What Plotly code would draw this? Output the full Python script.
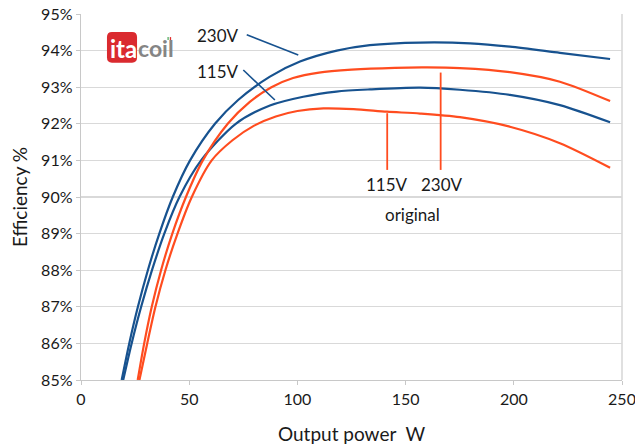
import plotly.graph_objects as go

# ---- data (Output power W, efficiency %) ----
blue230_x = [18.8, 22.3, 26.3, 30.9, 36.2, 42.4, 50.4, 61.9, 72.6, 87.3, 101.2, 118.2, 133.5, 156.7, 179.8, 198.2, 221.3, 244.5]
blue230_y = [85.0, 86.0, 87.0, 88.0, 89.0, 90.0, 91.0, 92.0, 92.65, 93.29, 93.70, 94.00, 94.15, 94.22, 94.20, 94.11, 93.94, 93.77]

blue115_x = [19.5, 23.4, 27.8, 32.8, 38.5, 45.5, 55.5, 71.5, 87.3, 102.7, 118.0, 133.5, 156.7, 175.1, 198.2, 221.3, 244.5]
blue115_y = [85.0, 86.0, 87.0, 88.0, 89.0, 90.0, 91.0, 92.0, 92.50, 92.74, 92.88, 92.94, 92.99, 92.93, 92.79, 92.51, 92.04]

orange230_x = [26.2, 29.2, 32.7, 37.0, 42.2, 48.5, 56.3, 67.8, 78.0, 88.0, 98.0, 110.0, 125.0, 145.0, 160.0, 175.1, 198.2, 221.3, 244.5]
orange230_y = [85.0, 86.0, 87.0, 88.0, 89.0, 90.0, 91.0, 92.0, 92.60, 93.00, 93.25, 93.40, 93.48, 93.53, 93.54, 93.52, 93.41, 93.15, 92.62]

orange115_x = [27.0, 30.6, 34.4, 39.0, 44.6, 51.2, 60.4, 70.0, 80.0, 90.0, 100.0, 112.0, 126.0, 141.4, 156.7, 175.1, 198.2, 221.3, 244.5]
orange115_y = [85.0, 86.0, 87.0, 88.0, 89.0, 90.0, 91.0, 91.55, 91.95, 92.20, 92.35, 92.42, 92.40, 92.33, 92.28, 92.18, 91.92, 91.47, 90.80]

x_ticks = [0, 50, 100, 150, 200, 250]
y_ticks = [85, 86, 87, 88, 89, 90, 91, 92, 93, 94, 95]

BLUE = "#17528f"
ORANGE = "#ff4c1f"
FONT = "Lato, 'Liberation Sans', sans-serif"
TXT = "#1a1a1a"

fig = go.Figure()
for xs, ys, col in [(blue230_x, blue230_y, BLUE), (blue115_x, blue115_y, BLUE),
                    (orange230_x, orange230_y, ORANGE), (orange115_x, orange115_y, ORANGE)]:
    fig.add_trace(go.Scatter(x=xs, y=ys, mode="lines",
                             line=dict(color=col, width=2.2, shape="spline", smoothing=0.8),
                             hoverinfo="skip", showlegend=False, cliponaxis=True))

shapes = []
# annotation pointer lines
shapes.append(dict(type="line", xref="x", yref="y", x0=76.6, y0=94.43, x1=100.4, y1=93.88,
                   line=dict(color=BLUE, width=1.6)))
shapes.append(dict(type="line", xref="x", yref="y", x0=75.0, y0=93.47, x1=89.6, y1=92.65,
                   line=dict(color=BLUE, width=1.6)))
shapes.append(dict(type="line", xref="x", yref="y", x0=141.5, y0=92.29, x1=141.5, y1=90.74,
                   line=dict(color=ORANGE, width=1.8)))
shapes.append(dict(type="line", xref="x", yref="y", x0=166.2, y0=93.40, x1=166.2, y1=90.74,
                   line=dict(color=ORANGE, width=1.8)))

# logo box (rounded rectangle)
x0, x1, y0, y1 = 12.0, 25.9, 93.67, 94.51
rx, ry = 2.3, 0.14
path = (f"M {x0+rx},{y1} L {x1-rx},{y1} Q {x1},{y1} {x1},{y1-ry} L {x1},{y0+ry} "
        f"Q {x1},{y0} {x1-rx},{y0} L {x0+rx},{y0} Q {x0},{y0} {x0},{y0+ry} "
        f"L {x0},{y1-ry} Q {x0},{y1} {x0+rx},{y1} Z")
shapes.append(dict(type="path", xref="x", yref="y", path=path, fillcolor="#da2a2f",
                   line=dict(width=0), layer="above"))
# tiny flag
for i, c in enumerate(["#2e9e3e", "#e8e8e8", "#e03030"]):
    shapes.append(dict(type="rect", xref="x", yref="y", x0=40.0 + i * 0.55, x1=40.55 + i * 0.55,
                       y0=94.29, y1=94.37, fillcolor=c, line=dict(width=0), layer="above"))

fig.update_layout(shapes=shapes)

ann = []
def label(x, y, text, size=17, color=TXT, bold=False, family=FONT):
    ann.append(dict(x=x, y=y, xref="x", yref="y", text=(f"<b>{text}</b>" if bold else text),
                    showarrow=False, font=dict(family=family, size=size, color=color),
                    xanchor="center", yanchor="middle"))

label(63.3, 94.40, "230V")
label(63.1, 93.44, "115V")
label(141.2, 90.33, "115V")
label(166.8, 90.33, "230V")
label(153.2, 89.53, "original")
label(19.6, 94.07, "ita", size=24, color="white", bold=True)
label(34.8, 94.07, "coil", size=23, color="#858585", bold=True)
fig.update_layout(annotations=ann)

fig.update_layout(
    width=635, height=448,
    margin=dict(l=81, r=13, t=14, b=68, autoexpand=False),
    paper_bgcolor="white", plot_bgcolor="white",
    font=dict(family=FONT, color=TXT),
    xaxis=dict(range=[0, 250], tickvals=x_ticks, ticktext=[str(v) for v in x_ticks],
               showgrid=False, zeroline=False, showline=True, linecolor="#c8c8c8", linewidth=1.3,
               ticks="outside", ticklen=4, tickcolor="#c8c8c8", ticklabeloverflow="allow",
               tickfont=dict(family=FONT, size=16, color=TXT),
               title=dict(text="Output power  W", font=dict(family=FONT, size=19, color=TXT), standoff=21),
               automargin=False, fixedrange=True),
    yaxis=dict(range=[85, 95], tickvals=y_ticks, ticktext=[f"{v}%" for v in y_ticks],
               showgrid=True, gridcolor="#d9d9d9", gridwidth=1.3, zeroline=False,
               showline=True, linecolor="#c8c8c8", linewidth=1.3,
               ticks="outside", ticklen=4, tickcolor="#c8c8c8", ticklabeloverflow="allow",
               tickfont=dict(family=FONT, size=16, color=TXT),
               title=dict(text="Efficiency %", font=dict(family=FONT, size=19, color=TXT), standoff=8),
               automargin=False, fixedrange=True),
)
# right border line
fig.add_shape(type="line", xref="paper", yref="paper", x0=1, x1=1, y0=0, y1=1,
              line=dict(color="#d0d0d0", width=1.3), layer="below")

fig.write_html("out.html", config={"displayModeBar": False, "staticPlot": True},
               post_script="document.body.style.margin='0';")
